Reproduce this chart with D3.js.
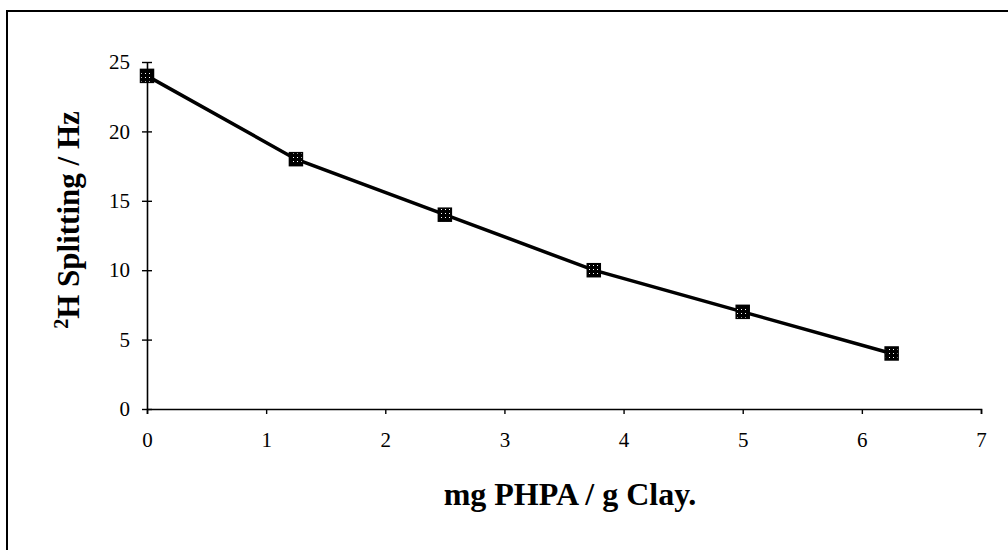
<!DOCTYPE html>
<html>
<head>
<meta charset="utf-8">
<script src="https://cdn.jsdelivr.net/npm/d3@7"></script>
<style>
  html, body { margin: 0; padding: 0; background: #fff; }
  svg { display: block; }
  text { font-family: "Liberation Serif", "Times New Roman", serif; fill: #000; }
</style>
</head>
<body>
<svg id="chart" width="1008" height="550"></svg>
<script>
const xValues = [0, 1.25, 2.5, 3.75, 5, 6.25];
const yValues = [24, 18, 14, 10, 7, 4];
const xTicks = [0, 1, 2, 3, 4, 5, 6, 7];
const yTicks = [0, 5, 10, 15, 20, 25];
const xTitle = "mg PHPA / g Clay.";
const yTitleSup = "2";
const yTitleMain = "H Splitting / Hz";

const svg = d3.select("#chart");
const x = d3.scaleLinear().domain([0, 7]).range([147, 981]);
const y = d3.scaleLinear().domain([0, 25]).range([409, 62]);

// outer frame
svg.append("rect").attr("x", 7).attr("y", 11).attr("width", 1010).attr("height", 560)
  .attr("fill", "none").attr("stroke", "#000").attr("stroke-width", 2);

// axes
const xAxis = svg.append("g").attr("transform", `translate(0,${y(0)})`)
  .call(d3.axisBottom(x).tickValues(xTicks).tickSize(5).tickSizeOuter(5).tickPadding(18).tickFormat(d3.format("d")));
const yAxis = svg.append("g").attr("transform", `translate(${x(0)},0)`)
  .call(d3.axisLeft(y).tickValues(yTicks).tickSize(5).tickSizeOuter(0).tickPadding(12).tickFormat(d3.format("d")));
[xAxis, yAxis].forEach(g => {
  g.select(".domain").attr("stroke", "#000").attr("stroke-width", 1.6);
  g.selectAll(".tick line").attr("stroke", "#000").attr("stroke-width", 1.4);
  g.selectAll(".tick text").attr("font-family", "Liberation Serif, serif").attr("font-size", 21).attr("fill", "#000");
});
// crossing ticks on y axis (inner half)
yAxis.selectAll(".tick").append("line").attr("x1", 0).attr("x2", 5).attr("stroke", "#000").attr("stroke-width", 1.4);

// marker pattern
const defs = svg.append("defs");
const pat = defs.append("pattern").attr("id", "dots").attr("patternUnits", "userSpaceOnUse")
  .attr("width", 4).attr("height", 4);
pat.append("rect").attr("width", 4).attr("height", 4).attr("fill", "#000");
pat.append("rect").attr("x", 1).attr("y", 1).attr("width", 1).attr("height", 1).attr("fill", "#fff");

const data = xValues.map((v, i) => ({x: v, y: yValues[i]}));

svg.append("path").datum(data)
  .attr("d", d3.line().x(d => x(d.x)).y(d => y(d.y)))
  .attr("fill", "none").attr("stroke", "#000").attr("stroke-width", 3.5);

svg.selectAll("rect.marker").data(data).enter().append("rect")
  .attr("class", "marker")
  .attr("x", d => x(d.x) - 6.5).attr("y", d => y(d.y) - 6.5)
  .attr("width", 13).attr("height", 13)
  .attr("fill", "url(#dots)").attr("stroke", "#000").attr("stroke-width", 1.5);

// titles
svg.append("text").attr("x", 570).attr("y", 505).attr("text-anchor", "middle")
  .attr("font-size", 32).attr("font-weight", "bold").text(xTitle);

const yt = svg.append("text").attr("transform", "translate(79,220) rotate(-90)")
  .attr("text-anchor", "middle").attr("font-size", 31).attr("font-weight", "bold");
yt.append("tspan").attr("font-size", 20).attr("dy", -11).text(yTitleSup);
yt.append("tspan").attr("dy", 11).text(yTitleMain);
</script>
</body>
</html>
